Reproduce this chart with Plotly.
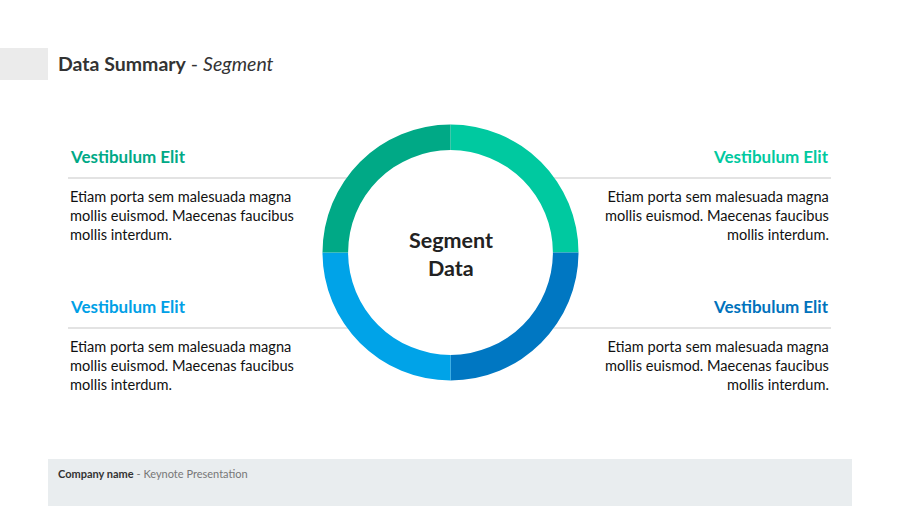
import plotly.graph_objects as go

segments = ["Top right", "Bottom right", "Bottom left", "Top left"]
values = [25, 25, 25, 25]
seg_colors = ["#00C9A0", "#0077C2", "#00A3E8", "#00A986"]

headings = ["Vestibulum Elit", "Vestibulum Elit", "Vestibulum Elit", "Vestibulum Elit"]
heading_colors = ["#00A986", "#00C9A0", "#00A0E6", "#0072BC"]
body = "Etiam porta sem malesuada magna<br>mollis euismod. Maecenas faucibus<br>mollis interdum."

W, H = 900, 506
FONT = "Lato"

def py(v):
    return 1 - v / H

def px(v):
    return v / W

fig = go.Figure()
fig.add_trace(go.Pie(
    labels=segments, values=values, sort=False, direction="clockwise", rotation=0,
    hole=0.8, marker=dict(colors=seg_colors, line=dict(width=0)),
    textinfo="none", hoverinfo="skip", showlegend=False,
    domain=dict(x=[px(322.5), px(578.5)], y=[py(380.5), py(124.5)]),
))

shapes = [
    dict(type="rect", xref="paper", yref="paper", x0=0, x1=px(48), y0=py(80), y1=py(48),
         fillcolor="#EBEBEB", line=dict(width=0), layer="below"),
    dict(type="rect", xref="paper", yref="paper", x0=px(48), x1=px(852), y0=0, y1=py(459),
         fillcolor="#E9EDEF", line=dict(width=0), layer="below"),
]
for y in (178, 328):
    shapes.append(dict(type="line", xref="paper", yref="paper", x0=px(68), x1=px(370), y0=py(y), y1=py(y),
                       line=dict(color="#E3E3E3", width=2), layer="below"))
    shapes.append(dict(type="line", xref="paper", yref="paper", x0=px(530), x1=px(831), y0=py(y), y1=py(y),
                       line=dict(color="#E3E3E3", width=2), layer="below"))

ann = []
ann.append(dict(x=px(56), y=py(64), xref="paper", yref="paper", xanchor="left", yanchor="middle",
                text="<b>Data Summary</b> - <i>Segment</i>", showarrow=False,
                font=dict(family=FONT, size=19.5, color="#333333")))
ann.append(dict(x=px(450.5), y=py(253.5), xref="paper", yref="paper", xanchor="center", yanchor="bottom",
                text="<b>Segment</b>", showarrow=False, borderpad=0,
                font=dict(family=FONT, size=21.5, color="#222222")))
ann.append(dict(x=px(450.5), y=py(253.5), xref="paper", yref="paper", xanchor="center", yanchor="top",
                text="<b>Data</b>", showarrow=False, borderpad=0,
                font=dict(family=FONT, size=21.5, color="#222222")))

positions = [(68, 156.5, "left"), (831, 156.5, "right"), (68, 306.5, "left"), (831, 306.5, "right")]
for (x, y, al), h, c in zip(positions, headings, heading_colors):
    ann.append(dict(x=px(x), y=py(y), xref="paper", yref="paper", xanchor=al, yanchor="middle",
                    text=f"<b>{h}</b>", showarrow=False, font=dict(family=FONT, size=17, color=c)))
    ann.append(dict(x=px(x), y=py(y + 29), xref="paper", yref="paper", xanchor=al, yanchor="top",
                    align=al, text=body, showarrow=False,
                    font=dict(family=FONT, size=14.6, color="#111111")))

ann.append(dict(x=px(56), y=py(473), xref="paper", yref="paper", xanchor="left", yanchor="middle",
                text="<b>Company name</b> <span style='color:#777777'>- Keynote Presentation</span>",
                showarrow=False, font=dict(family=FONT, size=11, color="#333333")))

fig.update_layout(
    width=W, height=H, margin=dict(l=0, r=0, t=0, b=0),
    paper_bgcolor="white", plot_bgcolor="white",
    shapes=shapes, annotations=ann,
    xaxis=dict(visible=False), yaxis=dict(visible=False),
)
fig.write_html("out.html")
